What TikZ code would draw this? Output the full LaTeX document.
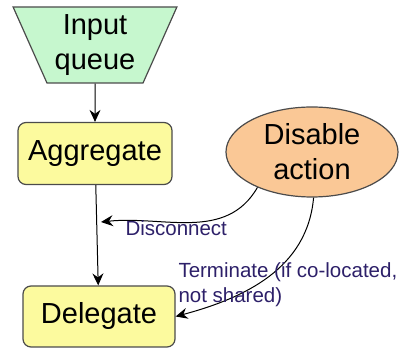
\documentclass[tikz,border=0pt]{standalone}
\usepackage{fontspec}
\setmainfont{Liberation Sans}
\usepackage{tikz}
\usepackage{xcolor}
\usetikzlibrary{shapes.geometric}
\usetikzlibrary{arrows.meta}
\usetikzlibrary{math}

\definecolor{queuegreen}{RGB}{198,247,206}
\definecolor{stepyellow}{RGB}{252,250,158}
\definecolor{actionpeach}{RGB}{250,200,150}
\definecolor{labelnavy}{RGB}{45,32,105}
\definecolor{bordergray}{RGB}{75,75,75}

\begin{document}
\begin{tikzpicture}[x=1pt,y=1pt,line width=1pt,
  arr/.style={-{Stealth[length=12pt,width=11pt,inset=4pt]}},
  stepbox/.style={draw=bordergray,fill=stepyellow,rounded corners=8pt,
    line width=1.2pt,inner sep=0pt,font=\fontsize{29}{35}\selectfont},
  lbl/.style={text=labelnavy,inner sep=0pt,align=left,
    font=\fontsize{20.5}{25}\selectfont}]

  \tikzmath{
    \boxw  = 154; % width of the yellow steps
    \boxh  = 62;  % height of the yellow steps
    \trapw = 164; % top side of the input queue
    \traph = 76;  % height of the input queue
  }

  % fixed frame of the picture
  \useasboundingbox (0,0) rectangle (399,350);

  % input queue (upside down trapezium)
  \node[draw=bordergray,fill=queuegreen,line width=1.2pt,trapezium,
    shape border rotate=180,trapezium left angle=65,trapezium right angle=65,
    trapezium stretches=true,minimum width=\trapw,minimum height=\traph,
    inner sep=0pt,align=center,font=\fontsize{29}{35}\selectfont]
    (queue) at (95,305) {Input\\queue};

  % the two steps
  \node[stepbox,minimum width=\boxw,minimum height=\boxh] (agg) at (95,196.5) {Aggregate};
  \node[stepbox,minimum width=\boxw-2,minimum height=\boxh-1] (del) at (99,33.5) {Delegate};

  % disable action
  \node[draw=bordergray,fill=actionpeach,ellipse,line width=1.2pt,
    minimum width=172,minimum height=90,inner sep=0pt,align=center,
    font=\fontsize{29}{35}\selectfont] (act) at (312,198) {Disable\\action};

  % main flow
  \draw[arr] (queue) -- (agg);
  \draw[arr] (agg) -- (del);

  % actions coming from the ellipse
  \coordinate (hit) at (101,128);
  \draw[arr] (act.213) to[out=240,in=6] (hit)
    node[lbl,anchor=west,xshift=24pt,yshift=-6pt] (disc) {Disconnect};

  \draw[arr] (act.272) to[out=265,in=15] (del.east);
  \node[lbl,anchor=west] (term) at (178,65.5) {Terminate (if co-located,\\not shared)};

\end{tikzpicture}
\end{document}
